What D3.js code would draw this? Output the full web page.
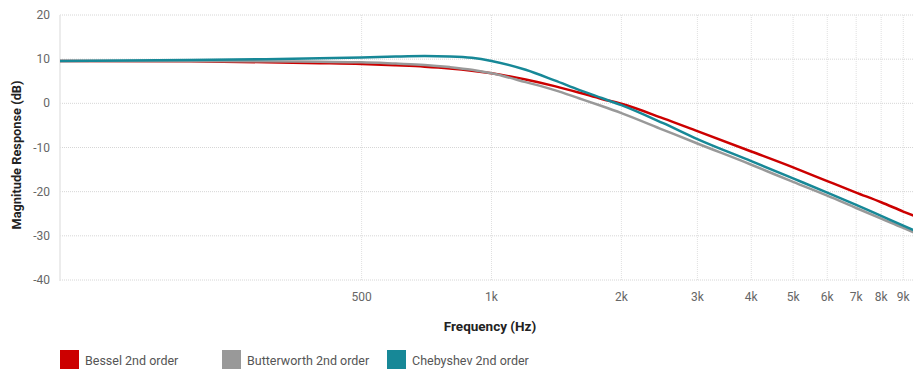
<!DOCTYPE html>
<html><head><meta charset="utf-8">
<script src="https://cdn.jsdelivr.net/npm/d3@7"></script>
<style>
html,body{margin:0;padding:0;background:#fff;}
text{font-family:Roboto,"Noto Sans",sans-serif;}
</style></head>
<body><svg id="c" width="913" height="369"></svg>
<script>
const freqs = [100,200,300,400,500,600,700,800,900,1000,1200,1400,1600,1800,2000,2500,3000,4000,5000,6000,7000,8000,9000,10000];
const bessel = [9.6,9.5,9.3,9.1,8.9,8.6,8.3,7.9,7.4,6.8,5.4,3.9,2.4,1.0,-0.1,-3.4,-6.3,-10.9,-14.5,-17.6,-20.2,-22.4,-24.5,-26.3];
const butterworth = [9.6,9.6,9.5,9.4,9.3,9.0,8.7,8.2,7.6,6.8,4.8,3.0,1.1,-0.6,-2.2,-6.0,-9.1,-13.9,-17.8,-20.9,-23.7,-26.1,-28.2,-30.2];
const chebyshev = [9.6,9.8,10.0,10.2,10.4,10.6,10.7,10.6,10.3,9.6,7.6,5.2,3.0,1.2,-0.4,-4.5,-8.1,-13.1,-17.0,-20.2,-23.0,-25.5,-27.7,-29.6];
const seriesNames = ["Bessel 2nd order","Butterworth 2nd order","Chebyshev 2nd order"];
const seriesColors = ["#cc0000","#999999","#178897"];
const xTicks = [500,1000,2000,3000,4000,5000,6000,7000,8000,9000];
const xTickLabels = ["500","1k","2k","3k","4k","5k","6k","7k","8k","9k"];
const yTicks = [20,10,0,-10,-20,-30,-40];

const svg = d3.select("#c");
const x = d3.scaleLog().domain([100,10000]).range([60,923]);
const y = d3.scaleLinear().domain([-40,20]).range([280,15]);

// horizontal grid
svg.append("g").selectAll("line").data(yTicks).join("line")
  .attr("x1",60).attr("x2",913).attr("y1",d=>y(d)).attr("y2",d=>y(d))
  .attr("stroke","#d6d6d6").attr("stroke-width",1).attr("stroke-dasharray","1,1");
// vertical grid
svg.append("g").selectAll("line").data(xTicks).join("line")
  .attr("x1",d=>x(d)).attr("x2",d=>x(d)).attr("y1",15).attr("y2",280)
  .attr("stroke","#e0e0e0").attr("stroke-width",1).attr("stroke-dasharray","1,1");
// left axis line
svg.append("line").attr("x1",60).attr("x2",60).attr("y1",15).attr("y2",281)
  .attr("stroke","#e6e6e6").attr("stroke-width",1.5);

// y tick labels
svg.append("g").selectAll("text").data(yTicks).join("text")
  .attr("x",50).attr("y",d=>y(d)+4).attr("text-anchor","end")
  .attr("font-size",12).attr("fill","#666").text(d=>d);
// x tick labels
svg.append("g").selectAll("text").data(xTicks).join("text")
  .attr("x",d=>x(d)).attr("y",301).attr("text-anchor","middle")
  .attr("font-size",12).attr("fill","#666").text((d,i)=>xTickLabels[i]);

// titles
svg.append("text").attr("x",490).attr("y",331).attr("text-anchor","middle")
  .attr("font-size",13.5).attr("font-weight","bold").attr("fill","#222").text("Frequency (Hz)");
svg.append("text").attr("transform","translate(21,155) rotate(-90)").attr("text-anchor","middle")
  .attr("font-size",12.8).attr("font-weight","bold").attr("fill","#222").text("Magnitude Response (dB)");

// lines
const line = d3.line().x(d=>x(d[0])).y(d=>y(d[1])).curve(d3.curveMonotoneX);
[bessel,butterworth,chebyshev].forEach((vals,i)=>{
  svg.append("path").datum(freqs.map((f,j)=>[f,vals[j]]))
    .attr("d",line).attr("fill","none").attr("stroke",seriesColors[i])
    .attr("stroke-width",2.5).attr("stroke-linejoin","round");
});

// legend
const legX = [60,222,387];
seriesNames.forEach((n,i)=>{
  const g = svg.append("g").attr("transform",`translate(${legX[i]},350)`);
  g.append("rect").attr("width",19).attr("height",19).attr("fill",seriesColors[i]);
  g.append("text").attr("x",25).attr("y",15).attr("font-size",12.5).attr("fill","#555").text(n);
});
</script></body></html>
